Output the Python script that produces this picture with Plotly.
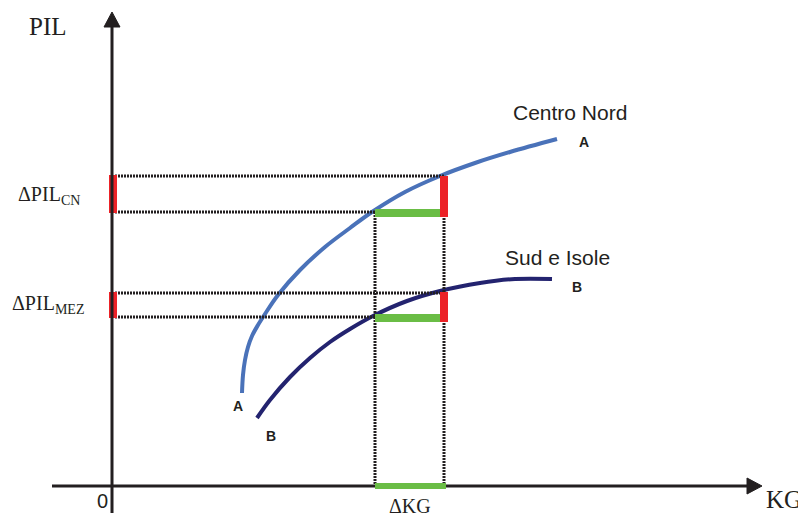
import plotly.graph_objects as go

# ---- data (schematic units: KG on x, PIL on y; origin at the axes crossing) ----
cn_kg = [130, 131, 133, 136, 140, 146, 153, 166, 188, 213, 238, 260, 293, 328, 363, 398, 445]
cn_pil = [93, 111, 126, 139, 150, 161, 172, 191, 216, 239, 258, 274, 294, 310, 323, 334, 347]
mez_kg = [145, 158, 178, 198, 218, 238, 261, 295, 328, 368, 403, 440]
mez_pil = [68, 86, 109, 128, 144, 157, 170, 185, 195, 203, 207, 207]

kg0, kg1 = 263, 332
pil_cn0, pil_cn1 = 274, 310
pil_mez0, pil_mez1 = 169, 193

BLUE = "#4a72b9"
NAVY = "#23236f"
RED = "#ec2227"
GREEN = "#6abd45"
BLACK = "#231f20"
SERIF = "Liberation Serif"
SANS = "Liberation Sans"

fig = go.Figure()

shapes = []
dot = dict(color=BLACK, width=3, dash="2px,1px")

def seg(x0, y0, x1, y1, line, layer="above"):
    shapes.append(dict(type="line", x0=x0, y0=y0, x1=x1, y1=y1, xref="x", yref="y",
                       line=line, layer=layer))

# dotted guides
seg(3, pil_cn1, kg1, pil_cn1, dot)
seg(3, pil_cn0, kg0, pil_cn0, dot)
seg(3, pil_mez1, kg1, pil_mez1, dot)
seg(3, pil_mez0, kg0, pil_mez0, dot)
seg(kg0, 2, kg0, pil_cn0, dot)
seg(kg1, 2, kg1, pil_cn1, dot)

# green bars
seg(kg0, pil_cn0 - 1, kg1, pil_cn0 - 1, dict(color=GREEN, width=8))
seg(kg0, pil_mez0 - 1, kg1, pil_mez0 - 1, dict(color=GREEN, width=8))

# red bars
seg(kg1, pil_cn0 - 5, kg1, pil_cn1, dict(color=RED, width=8))
seg(kg1, pil_mez0 - 5, kg1, pil_mez1 + 1, dict(color=RED, width=8))
seg(1, pil_cn0 - 1, 1, pil_cn1 + 1, dict(color=RED, width=8))
seg(1, pil_mez0 - 1, 1, pil_mez1 + 1, dict(color=RED, width=8))

# axes
seg(0, -30, 0, 459, dict(color=BLACK, width=3))
seg(-60, 0, 635, 0, dict(color=BLACK, width=3))
# green on x axis
seg(kg0, 0, kg1 + 2, 0, dict(color=GREEN, width=6))

# arrow heads
shapes.append(dict(type="path", path="M -8 459 L 8 459 L 0 474 Z", xref="x", yref="y",
                   fillcolor=BLACK, line=dict(color=BLACK, width=1)))
shapes.append(dict(type="path", path="M 635 8 L 635 -8 L 650 0 Z", xref="x", yref="y",
                   fillcolor=BLACK, line=dict(color=BLACK, width=1)))

fig.add_trace(go.Scatter(x=cn_kg, y=cn_pil, mode="lines",
                         line=dict(color=BLUE, width=4, shape="spline", smoothing=1.0),
                         hoverinfo="skip", showlegend=False))
fig.add_trace(go.Scatter(x=mez_kg, y=mez_pil, mode="lines",
                         line=dict(color=NAVY, width=4, shape="spline", smoothing=1.0),
                         hoverinfo="skip", showlegend=False))

ann = []
def txt(x, y, s, family, size, bold=False, **kw):
    ann.append(dict(x=x, y=y, xref="x", yref="y", text=("<b>%s</b>" % s) if bold else s,
                    showarrow=False, font=dict(family=family, size=size, color=BLACK), **kw))

txt(-64, 460, "PIL", SERIF, 25)
txt(672, -13, "KG", SERIF, 25)
txt(-63, 291, "ΔPIL<sub>CN</sub>", SERIF, 20)
txt(-64, 182, "ΔPIL<sub>MEZ</sub>", SERIF, 20)
txt(298, -20, "ΔKG", SERIF, 20)
txt(-10, -15, "0", SANS, 20)
txt(458, 374, "Centro Nord", SANS, 21)
txt(445, 229, "Sud e Isole", SANS, 21)
txt(472, 344, "A", SANS, 14, bold=True)
txt(465, 199, "B", SANS, 14, bold=True)
txt(126, 80, "A", SANS, 14, bold=True)
txt(159, 50, "B", SANS, 14, bold=True)

# the page body has an 8px margin, so the figure is shrunk and the ranges offset by 8px
fig.update_layout(
    width=798, height=505, margin=dict(l=0, r=0, t=0, b=0),
    paper_bgcolor="white", plot_bgcolor="white",
    xaxis=dict(range=[-104, 694], visible=False, fixedrange=True),
    yaxis=dict(range=[-27, 478], visible=False, fixedrange=True),
    shapes=shapes, annotations=ann, showlegend=False,
)

fig.write_html("out.html")
